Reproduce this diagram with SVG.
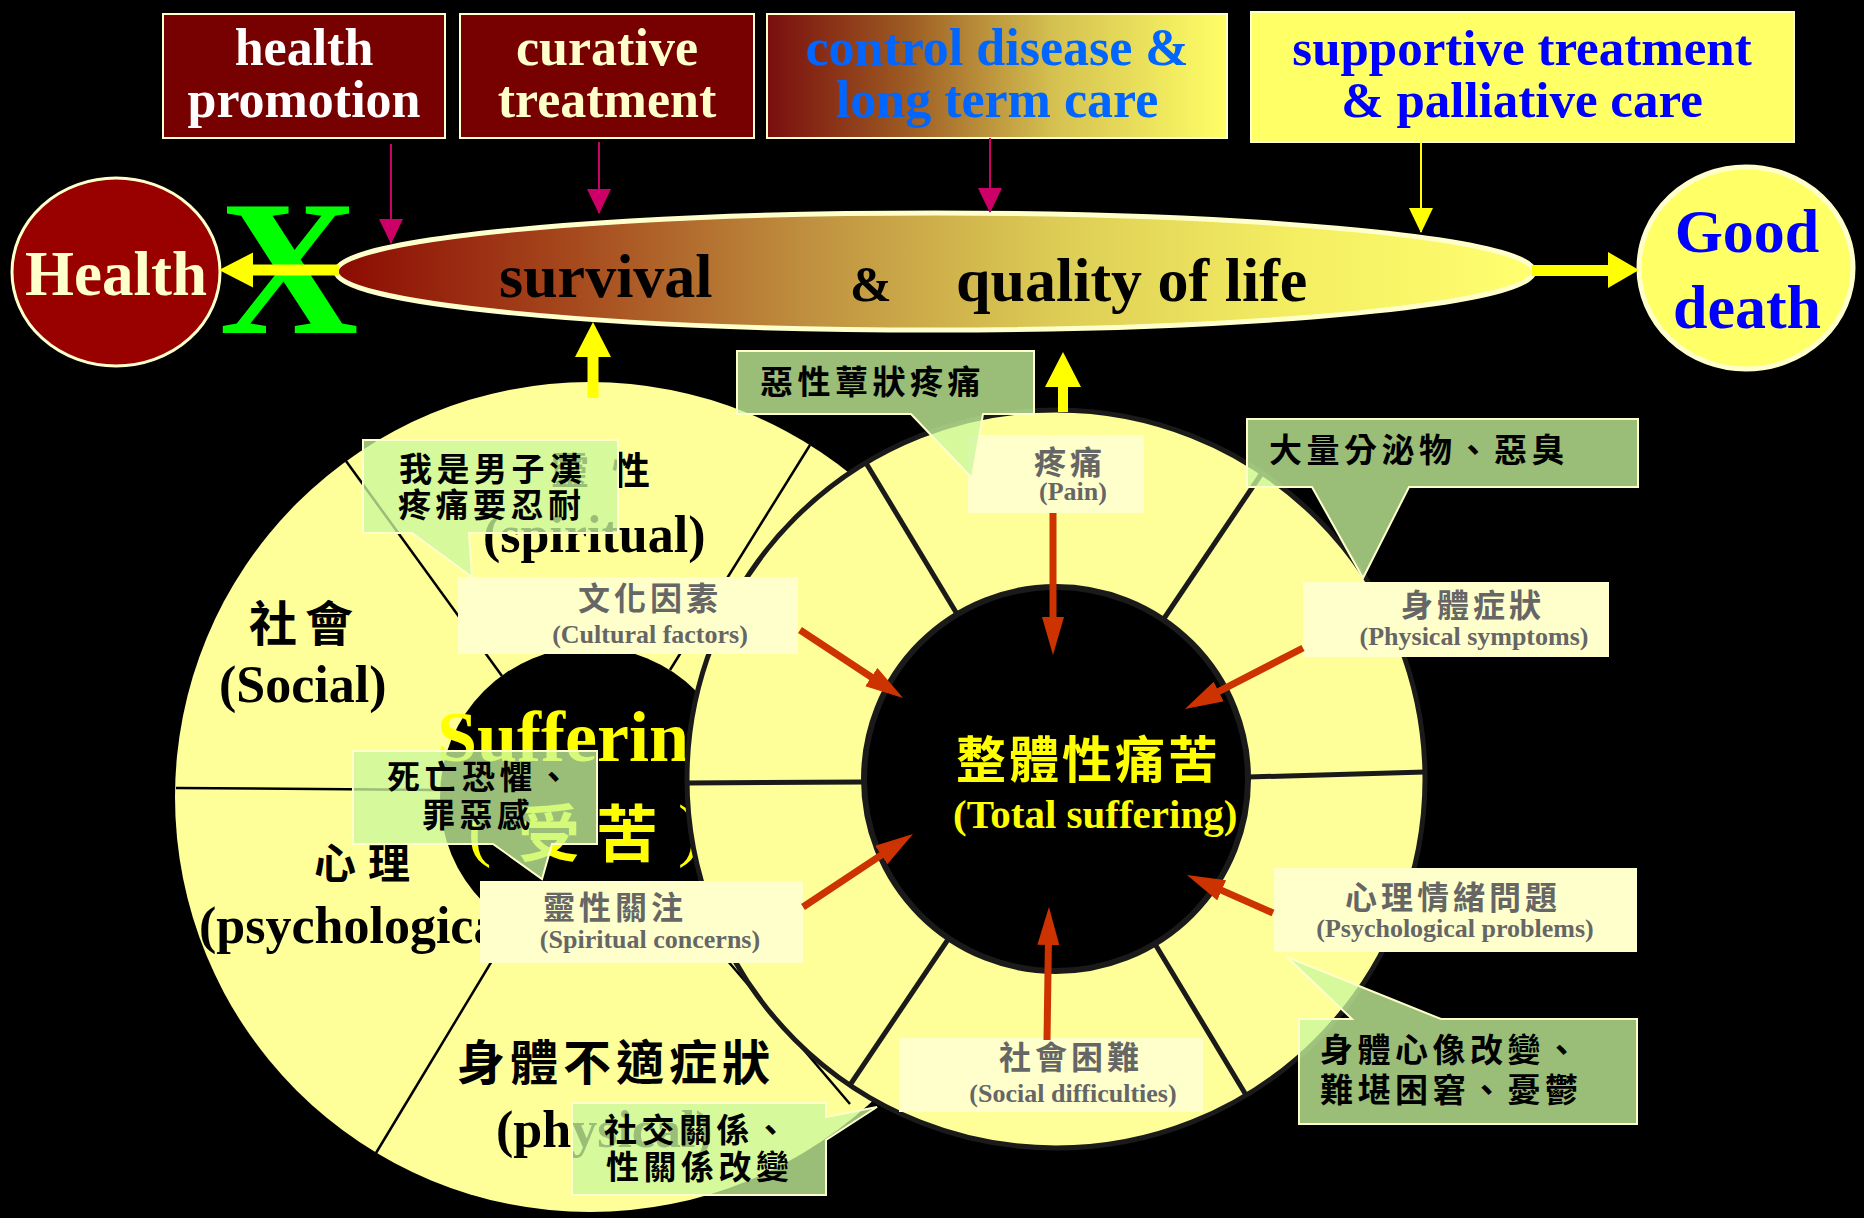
<svg xmlns="http://www.w3.org/2000/svg" width="1864" height="1218" viewBox="0 0 1864 1218">
<style>
.en{font-family:"Liberation Serif","Times New Roman",serif;font-weight:bold}
.cjk{font-family:"Noto Sans CJK TC","Noto Sans CJK SC",sans-serif;font-weight:bold}
.topbox{stroke:#ffffcc;stroke-width:2}
.lbl{fill:#ffffcc}
.lblzh{font-family:"Noto Sans CJK TC","Noto Sans CJK SC",sans-serif;font-weight:bold;font-size:32px;fill:#666666;text-anchor:middle;letter-spacing:4px}
.lblen{font-family:"Liberation Serif","Times New Roman",serif;font-weight:bold;font-size:26px;fill:#666666;text-anchor:middle}
.call{fill:#c9f79c;fill-opacity:0.77;stroke:#ffffcc;stroke-width:2}
.calltx{font-family:"Noto Sans CJK TC","Noto Sans CJK SC",sans-serif;font-weight:bold;font-size:33px;fill:#000;letter-spacing:4.5px}
.pink{stroke:#cc0066;stroke-width:2;marker-end:url(#hPink)}
.ythin{stroke:#ffff00;stroke-width:2;marker-end:url(#hYel)}
.red{stroke:#cc3300;stroke-width:7;fill:none;marker-end:url(#hRed)}
.div{stroke:#000;stroke-width:2.5}
.rdiv{stroke:#1a1a1a;stroke-width:5}
</style>
<defs>
<linearGradient id="g3" x1="0" y1="0" x2="1" y2="0">
<stop offset="0" stop-color="#7a0e0e"/>
<stop offset="0.3" stop-color="#9c5a22"/>
<stop offset="0.62" stop-color="#d4c050"/>
<stop offset="1" stop-color="#ffff66"/>
</linearGradient>
<linearGradient id="gEll" x1="0" y1="0" x2="1" y2="0">
<stop offset="0" stop-color="#8c0a02"/>
<stop offset="0.2" stop-color="#a64a1e"/>
<stop offset="0.4" stop-color="#c09240"/>
<stop offset="0.6" stop-color="#dccc55"/>
<stop offset="0.8" stop-color="#f4ee62"/>
<stop offset="1" stop-color="#ffff70"/>
</linearGradient>
<clipPath id="innerClip"><circle cx="1056" cy="779" r="189"/></clipPath>
<marker id="hPink" markerUnits="userSpaceOnUse" markerWidth="26" markerHeight="24" refX="24" refY="12" orient="auto"><path d="M0,0 L25,12 L0,24 z" fill="#cc0066"/></marker>
<marker id="hYel" markerUnits="userSpaceOnUse" markerWidth="26" markerHeight="24" refX="24" refY="12" orient="auto"><path d="M0,0 L25,12 L0,24 z" fill="#ffff00"/></marker>
<marker id="hRed" markerUnits="userSpaceOnUse" markerWidth="40" markerHeight="24" refX="8" refY="11" orient="auto"><path d="M0,0 L38,11 L0,22 z" fill="#cc3300"/></marker>
</defs>
<rect width="1864" height="1218" fill="#000"/>

<g id="box-health-promotion">
<rect class="topbox" x="163" y="14" width="282" height="124" fill="#770000"/>
<text class="en" x="304" y="65" font-size="52" fill="#ffffff" text-anchor="middle">health</text>
<text class="en" x="304" y="117" font-size="52" fill="#ffffff" text-anchor="middle">promotion</text>
</g>
<g id="box-curative">
<rect class="topbox" x="460" y="14" width="294" height="124" fill="#770000"/>
<text class="en" x="607" y="65" font-size="52" fill="#ffffcc" text-anchor="middle">curative</text>
<text class="en" x="607" y="117" font-size="52" fill="#ffffcc" text-anchor="middle">treatment</text>
</g>
<g id="box-control">
<rect class="topbox" x="767" y="14" width="460" height="124" fill="url(#g3)"/>
<text class="en" x="997" y="65" font-size="52" fill="#0066ff" text-anchor="middle">control disease &amp;</text>
<text class="en" x="997" y="117" font-size="52" fill="#0066ff" text-anchor="middle">long term care</text>
</g>
<g id="box-supportive">
<rect class="topbox" x="1251" y="12" width="543" height="130" fill="#ffff66"/>
<text class="en" x="1522" y="65" font-size="51" fill="#0000ff" text-anchor="middle">supportive treatment</text>
<text class="en" x="1522" y="117" font-size="51" fill="#0000ff" text-anchor="middle">&amp; palliative care</text>
</g>

<g id="node-health">
<ellipse cx="116" cy="272" rx="104" ry="94" fill="#990000" stroke="#ffffcc" stroke-width="3"/>
<text class="en" x="116" y="295" font-size="63" fill="#ffffcc" text-anchor="middle">Health</text>
</g>
<g id="mark-x">
<text class="en" x="289" y="333" font-size="193" fill="#00ff00" text-anchor="middle">X</text>
</g>
<g id="node-survival">
<ellipse cx="935" cy="271.5" rx="599" ry="58.5" fill="url(#gEll)" stroke="#ffffcc" stroke-width="5"/>
<text class="en" x="499" y="297" font-size="62" fill="#000">survival</text>
<text class="en" x="850" y="301" font-size="50" fill="#000">&amp;</text>
<text class="en" x="956" y="301" font-size="62" fill="#000">quality of life</text>
</g>
<g id="node-good-death">
<ellipse cx="1746" cy="268" rx="107" ry="101" fill="#ffff66" stroke="#ffffcc" stroke-width="5"/>
<text class="en" x="1747" y="252" font-size="62" fill="#0000ff" text-anchor="middle">Good</text>
<text class="en" x="1747" y="328" font-size="62" fill="#0000ff" text-anchor="middle">death</text>
</g>

<g id="node-left-wheel">
<circle cx="590" cy="797" r="415" fill="#ffff99"/>
<circle cx="590" cy="797" r="150" fill="#000"/>
<line class="div" x1="346" y1="461" x2="502" y2="676"/>
<line class="div" x1="810" y1="445" x2="670" y2="670"/>
<line class="div" x1="176" y1="788" x2="440" y2="790"/>
<line class="div" x1="376" y1="1153" x2="513" y2="926"/>
<line class="div" x1="850" y1="1104" x2="686" y2="912"/>
<text class="cjk" x="551 612" y="484" font-size="38" fill="#000">靈性</text>
<text class="en" x="483" y="552" font-size="52" fill="#000">(spiritual)</text>
<text class="cjk" x="249 305" y="641" font-size="48" fill="#000">社會</text>
<text class="en" x="219" y="702" font-size="52" fill="#000">(Social)</text>
<text class="cjk" x="314 368" y="879" font-size="42" fill="#000">心理</text>
<text class="en" x="199" y="943" font-size="52" fill="#000">(psychological)</text>
<text class="cjk" x="457" y="1080" font-size="48" fill="#000" letter-spacing="5">身體不適症狀</text>
<text class="en" x="496" y="1147" font-size="52" fill="#000">(physical)</text>
<text class="en" x="437" y="761" font-size="72" fill="#ffff00">Suffering</text>
<text x="468" y="853" font-family="Liberation Serif, serif" font-size="70" fill="#ffff00">(</text>
<text class="cjk" x="518 596" y="857" font-size="62" fill="#ffff00">受苦</text>
<text x="678" y="853" font-family="Liberation Serif, serif" font-size="70" fill="#ffff00">)</text>
</g>

<g id="node-ring">
<circle cx="1056" cy="779" r="369" fill="#ffff99" stroke="#1a1a1a" stroke-width="5"/>
<line class="rdiv" x1="866" y1="463" x2="957" y2="614"/>
<line class="rdiv" x1="1262" y1="473" x2="1163" y2="620"/>
<line class="rdiv" x1="1248" y1="777" x2="1425" y2="772"/>
<line class="rdiv" x1="864" y1="782" x2="687" y2="783"/>
<line class="rdiv" x1="949" y1="938" x2="850" y2="1085"/>
<line class="rdiv" x1="1155" y1="944" x2="1246" y2="1095"/>
<circle cx="1056" cy="779" r="192" fill="#000" stroke="#1a1a1a" stroke-width="6"/>
<text class="cjk" x="956" y="778" font-size="50" fill="#ffff00" letter-spacing="3">整體性痛苦</text>
<text class="en" x="953" y="828" font-size="41" fill="#ffff00" clip-path="url(#innerClip)">(Total suffering)</text>
</g>

<g id="connectors">
<line class="pink" x1="391" y1="144" x2="391" y2="243"/>
<line class="pink" x1="599" y1="142" x2="599" y2="213"/>
<line class="pink" x1="990" y1="138" x2="990" y2="212"/>
<line class="ythin" x1="1421" y1="142" x2="1421" y2="232"/>
<polygon fill="#ffff00" points="219,270 253,252.5 253,264.5 339,264.5 339,275.5 253,275.5 253,287.5"/>
<polygon fill="#ffff00" points="1532,265 1608,265 1608,252 1639,270 1608,288 1608,276 1532,276"/>
<polygon fill="#ffff00" points="593,322 611,357 598.5,357 598.5,398 587.5,398 587.5,357 575,357"/>
<polygon fill="#ffff00" points="1063,352 1081,387 1068,387 1068,412 1058,412 1058,387 1045,387"/>
</g>

<g id="label-pain">
<rect class="lbl" x="968" y="435" width="176" height="78"/>
<text class="lblzh" x="1070" y="474">疼痛</text>
<text class="lblen" x="1073" y="500">(Pain)</text>
</g>
<g id="label-physical">
<rect class="lbl" x="1303" y="582" width="306" height="75"/>
<text class="lblzh" x="1473" y="617">身體症狀</text>
<text class="lblen" x="1474" y="645">(Physical symptoms)</text>
</g>
<g id="label-psych">
<rect class="lbl" x="1274" y="868" width="363" height="84"/>
<text class="lblzh" x="1453" y="909">心理情緒問題</text>
<text class="lblen" x="1455" y="937">(Psychological problems)</text>
</g>
<g id="label-social">
<rect class="lbl" x="899" y="1038" width="304" height="74"/>
<text class="lblzh" x="1071" y="1069">社會困難</text>
<text class="lblen" x="1073" y="1102">(Social difficulties)</text>
</g>
<g id="label-spiritual">
<rect class="lbl" x="480" y="881" width="323" height="82"/>
<text class="lblzh" x="615" y="919">靈性關注</text>
<text class="lblen" x="650" y="948">(Spiritual concerns)</text>
</g>
<g id="label-cultural">
<rect class="lbl" x="458" y="577" width="340" height="77"/>
<text class="lblzh" x="650" y="610">文化因素</text>
<text class="lblen" x="650" y="643">(Cultural factors)</text>
</g>

<g id="connectors-red">
<line class="red" x1="1053" y1="513" x2="1053" y2="625"/>
<line class="red" x1="800" y1="630" x2="878" y2="681.5"/>
<line class="red" x1="1303" y1="648" x2="1211.6" y2="695.2"/>
<line class="red" x1="803" y1="907" x2="888" y2="850.6"/>
<line class="red" x1="1273" y1="913" x2="1214.4" y2="887.1"/>
<line class="red" x1="1047" y1="1040" x2="1048.5" y2="937"/>
</g>

<g id="callout-fungating">
<path class="call" d="M737,351 H1034 V414 H983 L972,478 L911,414 H737 Z"/>
<text class="calltx" x="760" y="394">惡性蕈狀疼痛</text>
</g>
<g id="callout-discharge">
<path class="call" d="M1247,419 H1638 V487 H1409 L1363,578 L1312,487 H1247 Z"/>
<text class="calltx" x="1269" y="462">大量分泌物、惡臭</text>
</g>
<g id="callout-man">
<path class="call" d="M363,440 H618 V533 H469 L472,577 L412,533 H363 Z"/>
<text class="calltx" x="399" y="481">我是男子漢</text>
<text class="calltx" x="398" y="517">疼痛要忍耐</text>
</g>
<g id="callout-death">
<path class="call" d="M353,751 H597 V844 H552 L542,879 L493,844 H353 Z"/>
<text class="calltx" x="387" y="789">死亡恐懼、</text>
<text class="calltx" x="422" y="827">罪惡感</text>
</g>
<g id="callout-relations">
<path class="call" d="M572,1103 H826 V1117 L877,1107 L826,1140 V1195 H572 Z"/>
<text class="calltx" x="604" y="1142">社交關係、</text>
<text class="calltx" x="606" y="1179">性關係改變</text>
</g>
<g id="callout-body-image">
<path class="call" d="M1299,1019 H1352 L1287,957 L1441,1019 H1637 V1124 H1299 Z"/>
<text class="calltx" x="1320" y="1062">身體心像改變、</text>
<text class="calltx" x="1320" y="1102">難堪困窘、憂鬱</text>
</g>
</svg>
